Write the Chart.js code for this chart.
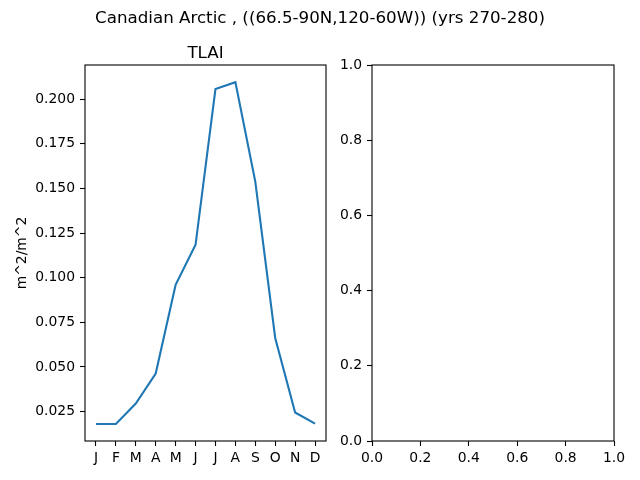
<!DOCTYPE html>
<html>
<head>
<meta charset="UTF-8">
<title>TLAI</title>
<script src="https://cdn.jsdelivr.net/npm/chart.js"></script>
<style>
    body { margin: 0; background: #fff; font-family: 'DejaVu Sans', sans-serif; }
    #wrap { position: relative; width: 640px; height: 480px; }
    canvas { position: absolute; top: 0; }
    .txt { position: absolute; color: #000; font-size: 16.7px; white-space: nowrap; transform: translate(-50%, -50%); }
</style>
</head>
<body>
<div id="wrap">
    <canvas id="left" width="340" height="480" style="left:0;width:340px;height:480px"></canvas>
    <canvas id="right" width="300" height="480" style="left:340px;width:300px;height:480px"></canvas>
    <div class="txt" style="left:320px;top:17px">Canadian Arctic , ((66.5-90N,120-60W)) (yrs 270-280)</div>
    <div class="txt" style="left:205.5px;top:52px">TLAI</div>
</div>
<script>
const months = ["J", "F", "M", "A", "M", "J", "J", "A", "S", "O", "N", "D"];
const tlai = [0.0180, 0.0181, 0.0295, 0.0463, 0.0960, 0.1184, 0.2056, 0.2095, 0.1538, 0.0662, 0.0245, 0.0182];
const yTicks = [0.025, 0.050, 0.075, 0.100, 0.125, 0.150, 0.175, 0.200];
const emptyTicks = [0.0, 0.2, 0.4, 0.6, 0.8, 1.0];

const font = { family: "'DejaVu Sans', sans-serif", size: 13.9 };

// box around plot area, like matplotlib spines
const frame = {
    id: 'frame',
    afterDraw(chart) {
        const a = chart.chartArea, c = chart.ctx;
        c.save();
        c.strokeStyle = '#000';
        c.lineWidth = 1.1;
        c.strokeRect(a.left, a.top, a.right - a.left, a.bottom - a.top);
        c.restore();
    }
};

function axisGrid() {
    return { drawOnChartArea: false, drawTicks: true, tickLength: 5, color: '#000', tickWidth: 1.1 };
}

new Chart(document.getElementById('left'), {
    type: 'line',
    data: {
        datasets: [{
            data: tlai.map((v, i) => ({ x: i, y: v })),
            borderColor: '#1f77b4',
            borderWidth: 2.1,
            pointRadius: 0,
            tension: 0,
            fill: false
        }]
    },
    options: {
        responsive: false,
        animation: false,
        layout: { padding: { left: 0, right: 14, top: 65, bottom: 0 } },
        plugins: { legend: { display: false }, tooltip: { enabled: false } },
        scales: {
            x: {
                type: 'linear',
                min: -0.55, max: 11.55,
                grid: axisGrid(),
                border: { display: false },
                afterBuildTicks: s => { s.ticks = months.map((m, i) => ({ value: i })); },
                afterFit: s => { s.height = 39; },
                ticks: { font: font, color: '#000', padding: 4, maxRotation: 0, autoSkip: false,
                    callback: (v) => months[v] }
            },
            y: {
                min: 0.0085, max: 0.2191,
                grid: axisGrid(),
                border: { display: false },
                afterBuildTicks: s => { s.ticks = yTicks.map(v => ({ value: v })); },
                afterFit: s => { s.width = 85; },
                title: { display: true, text: 'm^2/m^2', font: font, color: '#000', padding: { top: 14, bottom: 0 } },
                ticks: { font: font, color: '#000', padding: 5, callback: v => v.toFixed(3) }
            }
        }
    },
    plugins: [frame]
});

new Chart(document.getElementById('right'), {
    type: 'scatter',
    data: { datasets: [{ data: [] }] },
    options: {
        responsive: false,
        animation: false,
        layout: { padding: { left: 0, right: 26, top: 65, bottom: 0 } },
        plugins: { legend: { display: false }, tooltip: { enabled: false } },
        scales: {
            x: {
                type: 'linear', min: 0, max: 1,
                grid: axisGrid(),
                border: { display: false },
                afterBuildTicks: s => { s.ticks = emptyTicks.map(v => ({ value: v })); },
                afterFit: s => { s.height = 39; },
                ticks: { font: font, color: '#000', padding: 4, maxRotation: 0, callback: v => v.toFixed(1) }
            },
            y: {
                type: 'linear', min: 0, max: 1,
                grid: axisGrid(),
                border: { display: false },
                afterBuildTicks: s => { s.ticks = emptyTicks.map(v => ({ value: v })); },
                afterFit: s => { s.width = 32; },
                ticks: { font: font, color: '#000', padding: 5, callback: v => v.toFixed(1) }
            }
        }
    },
    plugins: [frame]
});
</script>
</body>
</html>
